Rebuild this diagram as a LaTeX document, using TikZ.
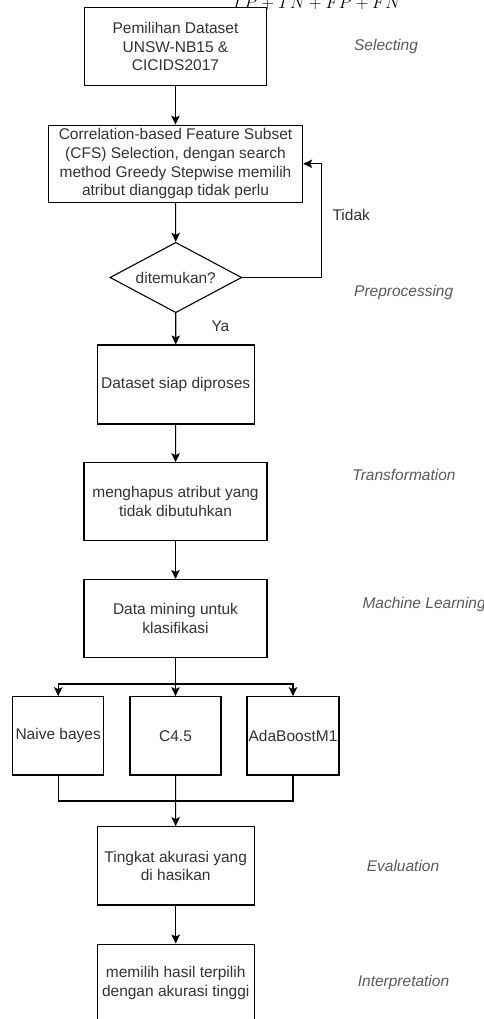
\documentclass[tikz,border=0pt]{standalone}
\usepackage{fontspec}
\setmainfont{Liberation Sans}
\usetikzlibrary{arrows.meta,shapes.geometric}
\tikzstyle{panah} = [->,>={Stealth[length=9pt,width=8.5pt,inset=2pt]},line width=1.1pt]
\tikzstyle{garis} = [line width=1.1pt]
\tikzstyle{kotak} = [draw,line width=1.1pt,align=center,inner sep=0pt,text=black!80,font=\fontsize{15.5}{18.7}\selectfont]
\tikzstyle{tahap} = [text=black!65,font=\fontsize{15.5}{18.7}\selectfont\itshape]

\begin{document}
\begin{tikzpicture}[x=1pt,y=-1pt]
	\useasboundingbox (0,0) rectangle (483,1019);

	% potongan rumus di atas
	\node[anchor=base,font=\fontsize{18.5}{20}\selectfont] (rumus) at (316.5,8.3) {$TP+TN+FP+FN$};

	\node[kotak,minimum width=182.7pt,minimum height=78.4pt] (pilih) at (175.5,46.5) {Pemilihan Dataset\\UNSW-NB15 \&\\CICIDS2017};
	\node[kotak,minimum width=254.4pt,minimum height=77.3pt] (cfs) at (175.5,163.8) {Correlation-based Feature Subset\\(CFS) Selection, dengan search\\method Greedy Stepwise memilih\\atribut dianggap tidak perlu};
	\node[kotak,diamond,aspect=1.87,minimum width=131.7pt,minimum height=70.4pt] (cek) at (175.8,277.5) {ditemukan?};
	\node[kotak,minimum width=156.7pt,minimum height=79pt] (siap) at (175.7,384.5) {Dataset siap diproses};
	\node[kotak,minimum width=183pt,minimum height=78pt] (hapus) at (175.5,501.7) {menghapus atribut yang\\tidak dibutuhkan};
	\node[kotak,minimum width=183pt,minimum height=78.2pt] (mining) at (175.5,618.6) {Data mining untuk\\klasifikasi};

	\node[kotak,minimum width=91pt,minimum height=78.3pt] (nb) at (58.2,735.8) {Naive bayes};
	\node[kotak,minimum width=91pt,minimum height=78.3pt] (c45) at (175.5,735.8) {C4.5};
	\node[kotak,minimum width=92pt,minimum height=78.3pt] (ada) at (293,735.8) {AdaBoostM1};

	\node[kotak,minimum width=156.7pt,minimum height=78.3pt] (akurasi) at (175.7,865.8) {Tingkat akurasi yang\\di hasikan};
	\node[kotak,minimum width=156.7pt,minimum height=78.3pt] (hasil) at (175.7,983.2) {memilih hasil terpilih\\dengan akurasi tinggi};

	% tahapan
	\node[tahap] (tSelecting) at (386,46) {Selecting};
	\node[tahap] (tPre) at (403.7,292.7) {Preprocessing};
	\node[tahap] (tTrans) at (404,475) {Transformation};
	\node[tahap,anchor=west] (tML) at (359,604) {Machine Learning};
	\node[tahap] (tEval) at (403,865.7) {Evaluation};
	\node[tahap] (tInter) at (403.5,982.3) {Interpretation};

	\coordinate (balik) at (321.7,277.5);
	\coordinate (cabang) at (175.5,684);
	\coordinate (gabung) at (175.5,801);

	\draw[panah] (pilih) -- (cfs);
	\draw[panah] (cfs) -- (cek);
	\draw[panah] (cek.east) -- (balik) |- (cfs.east);
	\node[kotak,draw=none,anchor=west] (tidak) at (332,215) {Tidak};
	\draw[panah] (cek) -- (siap);
	\node[kotak,draw=none,anchor=west] (ya) at (211,326) {Ya};
	\draw[panah] (siap) -- (hapus);
	\draw[panah] (hapus) -- (mining);

	\draw[garis] (mining) -- (cabang);
	\draw[panah] (cabang) -| (nb.north);
	\draw[panah] (cabang) -| (ada.north);
	\draw[panah] (cabang) -- (c45);

	\draw[garis] (nb.south) |- (gabung);
	\draw[garis] (ada.south) |- (gabung);
	\draw[panah] (c45) -- (akurasi);
	\draw[panah] (akurasi) -- (hasil);
\end{tikzpicture}
\end{document}
